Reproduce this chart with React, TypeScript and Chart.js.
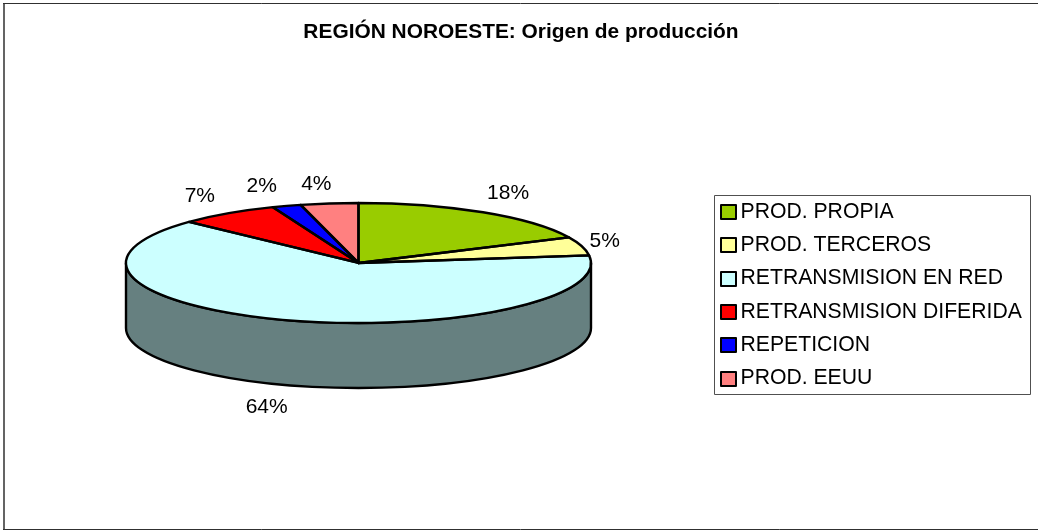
import React, { useEffect, useRef } from "react";
import { Chart, registerables } from "chart.js";

Chart.register(...registerables);

const categories = ["PROD. PROPIA", "PROD. TERCEROS", "RETRANSMISION EN RED", "RETRANSMISION DIFERIDA", "REPETICION", "PROD. EEUU"];
const shares = [18, 5, 64, 7, 2, 4];
const sliceColors = ["#99CC00", "#FFFF99", "#CCFFFF", "#FF0000", "#0000FF", "#FF8080"];
const chartTitle = "REGIÓN NOROESTE: Origen de producción";

const FONT = '"Liberation Sans", Arial, sans-serif';
const SQUASH = 60 / 232.5;
const DEPTH = 65;
const PIE_LINE = 2.4;
// label placement relative to the rim point at the slice's middle
const labelNudge: [number, number][] = [
  [25, -19],
  [23, -5],
  [-20, 22],
  [-28, -17],
  [-25, -20],
  [-13, -19.5],
];

const shade = (hex: string) => {
  const n = parseInt(hex.slice(1), 16);
  const c = (s: number) => Math.round(((n >> s) & 255) / 2);
  return `rgb(${c(16)},${c(8)},${c(0)})`;
};

const pie3d = {
  id: "pie3d",
  afterLayout(chart: any) {
    const t = chart.titleBlock;
    if (t) {
      t.left = 4;
      t.right = chart.width;
      t.top = 19.4;
      t.bottom = 19.4 + 25.2;
    }
  },
  beforeDraw(chart: any) {
    const { ctx, width, height } = chart;
    ctx.save();
    ctx.fillStyle = "#fff";
    ctx.fillRect(0, 0, width, height);
    ctx.strokeStyle = "#303030";
    ctx.lineWidth = 1;
    ctx.beginPath();
    ctx.moveTo(3, 3.5);
    ctx.lineTo(width, 3.5);
    ctx.moveTo(3, height - 0.5);
    ctx.lineTo(width, height - 0.5);
    ctx.stroke();
    ctx.lineWidth = 1.5;
    ctx.beginPath();
    ctx.moveTo(4, 3);
    ctx.lineTo(4, height);
    ctx.stroke();
    ctx.restore();
  },
  beforeDatasetsDraw(chart: any) {
    const { ctx } = chart;
    const arcs = chart.getDatasetMeta(0).data;
    const { x: cx, y: cy, outerRadius: r } = arcs[0];
    ctx.save();
    arcs.forEach((arc: any, i: number) => {
      const a = Math.max(arc.startAngle, 0);
      const b = Math.min(arc.endAngle, Math.PI);
      if (b <= a) return;
      ctx.beginPath();
      ctx.ellipse(cx, cy, r, r * SQUASH, 0, a, b);
      ctx.ellipse(cx, cy + DEPTH, r, r * SQUASH, 0, b, a, true);
      ctx.closePath();
      ctx.fillStyle = shade(sliceColors[i]);
      ctx.fill();
      ctx.strokeStyle = "#000";
      ctx.lineWidth = PIE_LINE;
      ctx.lineJoin = "round";
      ctx.stroke();
    });
    ctx.restore();
    ctx.save();
    ctx.translate(cx, cy);
    ctx.scale(1, SQUASH);
    ctx.translate(-cx, -cy);
  },
  afterDatasetsDraw(chart: any) {
    const { ctx } = chart;
    ctx.restore();
    const arcs = chart.getDatasetMeta(0).data;
    const { x: cx, y: cy, outerRadius: r } = arcs[0];
    ctx.save();
    ctx.strokeStyle = "#000";
    ctx.lineWidth = PIE_LINE;
    ctx.lineJoin = "round";
    arcs.forEach((arc: any) => {
      ctx.beginPath();
      ctx.moveTo(cx, cy);
      ctx.ellipse(cx, cy, r, r * SQUASH, 0, arc.startAngle, arc.endAngle);
      ctx.closePath();
      ctx.stroke();
    });
    // percentage labels
    const total = shares.reduce((s, v) => s + v, 0);
    ctx.fillStyle = "#000";
    ctx.font = `21px ${FONT}`;
    ctx.textAlign = "center";
    ctx.textBaseline = "middle";
    arcs.forEach((arc: any, i: number) => {
      const mid = (arc.startAngle + arc.endAngle) / 2;
      const rimX = cx + r * Math.cos(mid);
      const rimY = cy + r * SQUASH * Math.sin(mid) + (Math.sin(mid) > 0 ? DEPTH : 0);
      const [dx, dy] = labelNudge[i];
      ctx.fillText(`${Math.round((shares[i] / total) * 100)}%`, rimX + dx, rimY + dy);
    });
    // legend
    const box = { left: 714, top: 195, right: 1030, bottom: 394 };
    ctx.strokeStyle = "#505050";
    ctx.lineWidth = 1;
    ctx.strokeRect(box.left + 0.5, box.top + 0.5, box.right - box.left, box.bottom - box.top);
    ctx.font = `21.2px ${FONT}`;
    ctx.textAlign = "left";
    categories.forEach((name, i) => {
      const y = 212 + i * 33.3;
      ctx.fillStyle = sliceColors[i];
      ctx.strokeStyle = "#000";
      ctx.lineWidth = 2;
      ctx.fillRect(721, Math.round(y) - 7, 15, 14);
      ctx.strokeRect(721, Math.round(y) - 7, 15, 14);
      ctx.fillStyle = "#000";
      ctx.fillText(name, 740.5, y);
    });
    ctx.restore();
  },
};

export default function App() {
  const ref = useRef<HTMLCanvasElement>(null);
  useEffect(() => {
    document.body.style.margin = "0";
    const chart = new Chart(ref.current!, {
      type: "pie",
      data: {
        labels: categories,
        datasets: [
          {
            data: shares,
            backgroundColor: sliceColors,
            borderWidth: 0,
          },
        ],
      },
      options: {
        responsive: false,
        animation: false,
        layout: { padding: { left: 126, right: 447, top: 5.3, bottom: 34.5 } },
        plugins: {
          legend: { display: false },
          tooltip: { enabled: false },
          title: {
            display: true,
            text: chartTitle,
            color: "#000",
            font: { family: FONT, size: 20.9, weight: "bold" },
            padding: 0,
          },
        },
      },
      plugins: [pie3d],
    } as any);
    return () => chart.destroy();
  }, []);
  return <canvas ref={ref} width={1038} height={530} style={{ display: "block" }} />;
}
